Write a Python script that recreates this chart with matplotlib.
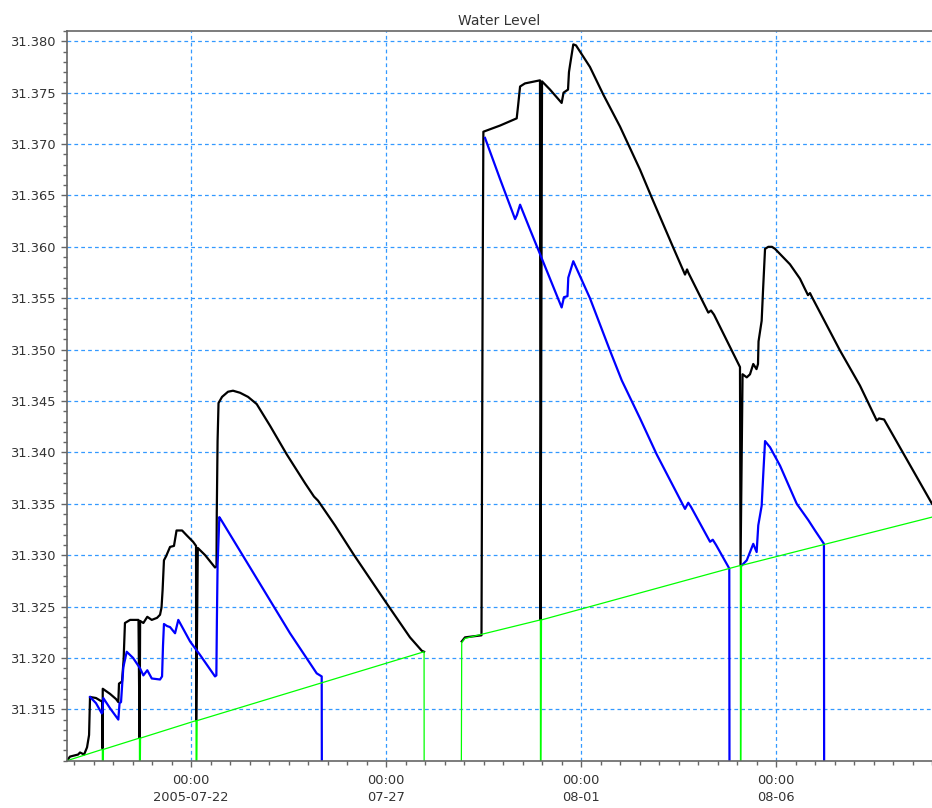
import matplotlib
matplotlib.use('Agg')
import matplotlib.pyplot as plt
import matplotlib.dates as mdates
from matplotlib.ticker import FixedLocator, AutoMinorLocator, FormatStrFormatter
import numpy as np
import pandas as pd

# niveles de agua (2005), tramos separados por huecos sin datos
black_t1 = ['07-18 19:40', '07-18 21:30', '07-19 02:30', '07-19 03:40', '07-19 06:10', '07-19 08:00',
            '07-19 09:15', '07-19 09:50', '07-19 13:30', '07-19 16:40', '07-19 17:20', '07-19 17:30',
            '07-19 17:40', '07-19 22:10', '07-20 01:50', '07-20 03:15', '07-20 03:40', '07-20 05:30',
            '07-20 06:30', '07-20 07:20', '07-20 10:30', '07-20 15:40', '07-20 16:20', '07-20 16:40',
            '07-20 18:40', '07-20 21:05', '07-20 23:50', '07-21 03:05', '07-21 04:55', '07-21 05:50',
            '07-21 06:30', '07-21 07:20', '07-21 08:40', '07-21 11:05', '07-21 13:30', '07-21 15:05',
            '07-21 18:30', '07-21 21:30', '07-22 01:15', '07-22 03:05', '07-22 03:10', '07-22 04:10',
            '07-22 08:40', '07-22 14:45', '07-22 15:40', '07-22 15:50', '07-22 16:20', '07-22 16:55',
            '07-22 19:05', '07-22 22:45', '07-23 01:50', '07-23 06:10', '07-23 11:05', '07-23 16:25',
            '07-24 00:35', '07-24 10:55', '07-24 22:10', '07-25 03:40', '07-25 06:10', '07-25 16:35',
            '07-26 03:55', '07-27 00:25', '07-27 14:45', '07-27 22:00', '07-27 23:25']
black_v1 = [31.3100, 31.3104, 31.3106, 31.3108, 31.3106, 31.3113, 31.3125, 31.3162, 31.3161, 31.3158,
            31.3158, 31.3112, 31.3170, 31.3165, 31.3160, 31.3157, 31.3175, 31.3177, 31.3198, 31.3234,
            31.3237, 31.3237, 31.3122, 31.3236, 31.3234, 31.3240, 31.3237, 31.3239, 31.3242, 31.3249,
            31.3266, 31.3295, 31.3299, 31.3308, 31.3309, 31.3324, 31.3324, 31.3319, 31.3313, 31.3309,
            31.3139, 31.3307, 31.3300, 31.3288, 31.3289, 31.3340, 31.3411, 31.3448, 31.3454, 31.3459,
            31.3460, 31.3458, 31.3454, 31.3447, 31.3426, 31.3398, 31.3370, 31.3357, 31.3353, 31.3329,
            31.3301, 31.3253, 31.3220, 31.3207, 31.3206]

black_t2 = ['07-28 22:35', '07-29 00:35', '07-29 10:45', '07-29 11:30', '07-29 11:55', '07-29 22:10',
            '07-30 08:25', '07-30 09:15', '07-30 10:30', '07-30 13:30', '07-30 22:45', '07-30 23:05',
            '07-31 00:00', '07-31 04:55', '07-31 12:05', '07-31 13:15', '07-31 16:00', '07-31 16:35',
            '07-31 17:15', '07-31 19:15', '07-31 20:55', '08-01 05:30', '08-01 13:45', '08-02 00:00',
            '08-02 12:20', '08-02 19:30', '08-03 08:50', '08-03 16:00', '08-03 17:15', '08-03 18:00',
            '08-04 06:20', '08-04 08:00', '08-04 09:50', '08-05 01:50', '08-05 02:10', '08-05 03:25',
            '08-05 06:00', '08-05 08:00', '08-05 10:00', '08-05 12:00', '08-05 12:55', '08-05 13:15',
            '08-05 15:10', '08-05 16:00', '08-05 17:15', '08-05 19:15', '08-05 21:30', '08-05 23:25',
            '08-06 08:35', '08-06 14:45', '08-06 19:40', '08-06 20:55', '08-06 22:10', '08-07 15:25',
            '08-08 03:40', '08-08 14:00', '08-08 15:25', '08-08 18:30', '08-10 00:00']
black_v2 = [31.3216, 31.3220, 31.3222, 31.3577, 31.3712, 31.3718, 31.3725, 31.3737, 31.3756, 31.3759,
            31.3762, 31.3237, 31.3761, 31.3753, 31.3740, 31.3750, 31.3753, 31.3770, 31.3777, 31.3797,
            31.3796, 31.3775, 31.3748, 31.3717, 31.3675, 31.3648, 31.3599, 31.3573, 31.3578, 31.3575,
            31.3536, 31.3538, 31.3534, 31.3483, 31.3290, 31.3476, 31.3473, 31.3476, 31.3486, 31.3481,
            31.3486, 31.3508, 31.3528, 31.3557, 31.3598, 31.3600, 31.3600, 31.3598, 31.3583, 31.3569,
            31.3553, 31.3555, 31.3551, 31.3499, 31.3465, 31.3431, 31.3433, 31.3432, 31.3350]

blue_t1 = ['07-19 09:50', '07-19 13:30', '07-19 17:05', '07-19 17:30', '07-19 18:00', '07-19 22:10',
           '07-20 03:15', '07-20 04:00', '07-20 04:55', '07-20 06:20', '07-20 08:25', '07-20 12:20',
           '07-20 16:35', '07-20 18:40', '07-20 21:05', '07-20 23:50', '07-21 04:55', '07-21 06:10',
           '07-21 06:45', '07-21 07:20', '07-21 09:15', '07-21 11:05', '07-21 14:10', '07-21 16:10',
           '07-21 23:25', '07-22 05:30', '07-22 14:45', '07-22 15:35', '07-22 15:55', '07-22 16:20',
           '07-22 17:25', '07-22 18:15', '07-23 12:20', '07-24 12:55', '07-25 05:20', '07-25 08:25',
           '07-25 08:35']
blue_v1 = [31.3162, 31.3156, 31.3146, 31.3147, 31.3161, 31.3151, 31.3140, 31.3156, 31.3157, 31.3191,
           31.3206, 31.3200, 31.3190, 31.3183, 31.3188, 31.3180, 31.3179, 31.3182, 31.3212, 31.3233,
           31.3231, 31.3230, 31.3224, 31.3237, 31.3216, 31.3203, 31.3182, 31.3183, 31.3237, 31.3290,
           31.3337, 31.3335, 31.3288, 31.3224, 31.3185, 31.3182, 31.3000]

blue_t2 = ['07-29 12:55', '07-29 22:10', '07-30 07:25', '07-30 08:35', '07-30 10:30', '07-30 16:35',
           '07-30 22:45', '07-31 04:55', '07-31 12:05', '07-31 13:30', '07-31 15:40', '07-31 16:10',
           '07-31 19:15', '08-01 05:30', '08-01 17:50', '08-02 01:05', '08-02 12:20', '08-02 22:35',
           '08-03 16:00', '08-03 18:00', '08-03 19:40', '08-04 07:25', '08-04 09:05', '08-04 11:05',
           '08-04 19:15', '08-04 19:25']
blue_v2 = [31.3706, 31.3666, 31.3627, 31.3631, 31.3641, 31.3617, 31.3593, 31.3569, 31.3541, 31.3551,
           31.3552, 31.3570, 31.3586, 31.3550, 31.3499, 31.3470, 31.3433, 31.3398, 31.3345, 31.3351,
           31.3347, 31.3313, 31.3315, 31.3310, 31.3287, 31.3000]

blue_t3 = ['08-05 02:55', '08-05 06:00', '08-05 10:00', '08-05 12:05', '08-05 13:05', '08-05 15:10',
           '08-05 16:10', '08-05 17:15', '08-05 20:20', '08-06 02:30', '08-06 12:45', '08-06 19:55',
           '08-07 00:00', '08-07 05:30', '08-07 05:40']
blue_v3 = [31.3290, 31.3295, 31.3311, 31.3303, 31.3329, 31.3348, 31.3379, 31.3411, 31.3405, 31.3387,
           31.3350, 31.3334, 31.3324, 31.3311, 31.3000]

green_t1 = ['07-18 19:40', '07-19 17:25', '07-19 17:30', '07-19 18:05', '07-20 16:15', '07-20 16:20',
            '07-20 16:55', '07-22 03:05', '07-22 03:10', '07-22 03:45', '07-27 23:25', '07-27 23:30']
green_v1 = [31.3100, 31.3111, 31.3000, 31.3111, 31.3122, 31.3000, 31.3122, 31.3139, 31.3000, 31.3139,
            31.3206, 31.3000]

green_t2 = ['07-28 22:10', '07-28 22:35', '07-29 00:35', '07-30 23:00', '07-30 23:05', '07-30 23:40',
            '08-05 02:05', '08-05 02:10', '08-05 02:45', '08-10 00:00']
green_v2 = [31.3000, 31.3215, 31.3219, 31.3237, 31.3000, 31.3237, 31.3290, 31.3000, 31.3290, 31.3337]

tick_dates = ['2005-07-22', '2005-07-27', '2005-08-01', '2005-08-06']
tick_labels = ['00:00\n2005-07-22', '00:00\n07-27', '00:00\n08-01', '00:00\n08-06']
y_ticks = [31.315, 31.320, 31.325, 31.330, 31.335, 31.340, 31.345, 31.350, 31.355, 31.360,
           31.365, 31.370, 31.375, 31.380]


def fechas(ts):
    return pd.to_datetime(['2005-' + t for t in ts])


fig = plt.figure(figsize=(9.32, 8.08), dpi=100)
ax = fig.add_axes([67 / 932, 1 - 760.7 / 808, 1 - 67 / 932, (760.7 - 31) / 808])

for t, v in [(black_t1, black_v1), (black_t2, black_v2)]:
    ax.plot(fechas(t), v, color='black', lw=1.6)
for t, v in [(blue_t1, blue_v1), (blue_t2, blue_v2), (blue_t3, blue_v3)]:
    ax.plot(fechas(t), v, color='#0000ff', lw=1.6)
for t, v in [(green_t1, green_v1), (green_t2, green_v2)]:
    ax.plot(fechas(t), v, color='#00ff00', lw=0.9)

ax.set_xlim(pd.Timestamp('2005-07-18 19:40'), pd.Timestamp('2005-08-10 00:00'))
ax.set_ylim(31.310, 31.381)

ax.yaxis.set_major_locator(FixedLocator(y_ticks))
ax.yaxis.set_major_formatter(FormatStrFormatter('%.3f'))
ax.yaxis.set_minor_locator(AutoMinorLocator(5))

ax.set_xticks(pd.to_datetime(tick_dates))
ax.set_xticklabels(tick_labels, linespacing=1.45)
ax.xaxis.set_minor_locator(mdates.HourLocator(byhour=[0, 12]))

ax.grid(which='major', color='#3399ff', linestyle=(0, (3, 2.5)), linewidth=0.9)
ax.set_axisbelow(True)

for lado in ['top', 'left', 'bottom']:
    ax.spines[lado].set_color('#666666')
    ax.spines[lado].set_linewidth(1.2)
ax.spines['right'].set_visible(False)

ax.tick_params(which='major', length=4.5, width=1, color='#666666',
               labelsize=9.4, labelcolor='#333333', pad=4)
ax.tick_params(axis='x', which='major', pad=5)
ax.tick_params(which='minor', length=2.8, width=1, color='#666666')
ax.tick_params(axis='x', which='both', top=False)

ax.set_title('Water Level', fontsize=10, color='#333333', pad=4.5)

fig.savefig('out.png', dpi=100)
